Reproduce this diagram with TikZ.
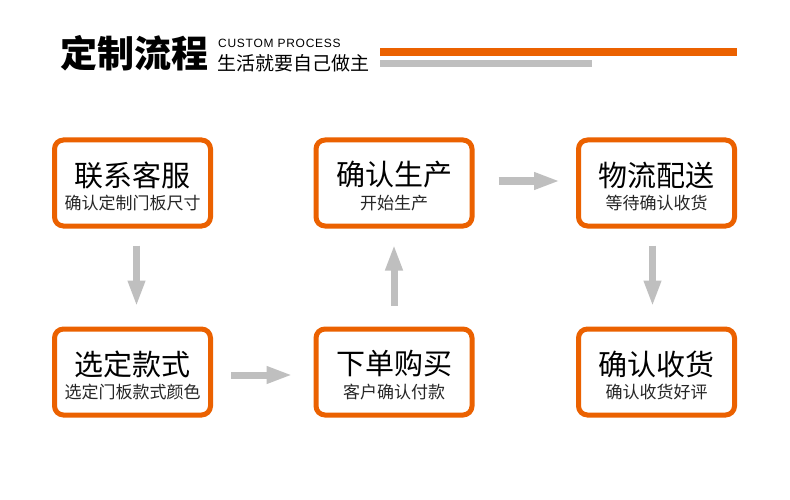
\documentclass[tikz,border=0pt]{standalone}
\usepackage{fontspec}
\setmainfont{Noto Sans CJK SC}
\newfontfamily\latinsans[LetterSpace=6]{Liberation Sans}
\usetikzlibrary{arrows.meta}
\definecolor{orng}{HTML}{EB6100}
\definecolor{gry}{HTML}{BFBFBF}
\tikzset{
  stepbox/.style={draw=orng, line width=5pt, rounded corners=9pt, fill=white,
    minimum width=156pt, minimum height=86pt, inner sep=0pt},
  maintext/.style={inner sep=0pt, font=\fontsize{29}{31}\selectfont, text=black},
  subtext/.style={inner sep=0pt, font=\fontsize{17}{19}\selectfont, text=black!85},
  flow/.style={draw=gry, line width=7pt, -{Triangle[width=16pt,length=26pt]}, color=gry},
}
\begin{document}
\begin{tikzpicture}[x=1pt,y=-1pt]
\useasboundingbox[fill=white] (0,0) rectangle (790,500);
% header
\node[anchor=west, inner sep=0pt, font=\fontsize{37}{40}\selectfont\bfseries] (title) at (60,53) {定制流程};
\node[anchor=west, inner sep=0pt, font=\latinsans\fontsize{12}{13}\selectfont] (sub1) at (218,43) {CUSTOM PROCESS};
\node[anchor=west, inner sep=0pt, font=\fontsize{19}{21}\selectfont] (sub2) at (217,63.5) {生活就要自己做主};
\fill[orng] (380,48) rectangle (737,56);
\fill[gry] (380,60) rectangle (592,67);
% boxes
\node[stepbox] (b1) at (132.5,183) {};
\node[stepbox] (b2) at (394,183) {};
\node[stepbox] (b3) at (656.5,183) {};
\node[stepbox] (b4) at (132.5,372) {};
\node[stepbox] (b5) at (394,372) {};
\node[stepbox] (b6) at (656.5,372) {};
% texts
\node[maintext] (t1) at ([yshift=8pt]b1.center) {联系客服};
\node[subtext] (s1) at ([yshift=-20pt]b1.center) {确认定制门板尺寸};
\node[maintext] (t2) at ([yshift=8pt]b2.center) {确认生产};
\node[subtext] (s2) at ([yshift=-20pt]b2.center) {开始生产};
\node[maintext] (t3) at ([yshift=8pt]b3.center) {物流配送};
\node[subtext] (s3) at ([yshift=-20pt]b3.center) {等待确认收货};
\node[maintext] (t4) at ([yshift=8pt]b4.center) {选定款式};
\node[subtext] (s4) at ([yshift=-20pt]b4.center) {选定门板款式颜色};
\node[maintext] (t5) at ([yshift=8pt]b5.center) {下单购买};
\node[subtext] (s5) at ([yshift=-20pt]b5.center) {客户确认付款};
\node[maintext] (t6) at ([yshift=8pt]b6.center) {确认收货};
\node[subtext] (s6) at ([yshift=-20pt]b6.center) {确认收货好评};
% arrows
\draw[flow, shorten <=17pt, shorten >=20pt] ([xshift=4pt]b1.south) -- ([xshift=4pt]b4.north);
\draw[flow, shorten <=18pt, shorten >=21pt] ([yshift=-3pt]b4.east) -- ([yshift=-3pt]b5.west);
\draw[flow, shorten <=21pt, shorten >=16pt] (b5.north) -- (b2.south);
\draw[flow, shorten <=24pt, shorten >=16pt] ([yshift=2pt]b2.east) -- ([yshift=2pt]b3.west);
\draw[flow, shorten <=17pt, shorten >=20pt] ([xshift=-4pt]b3.south) -- ([xshift=-4pt]b6.north);
\end{tikzpicture}
\end{document}
